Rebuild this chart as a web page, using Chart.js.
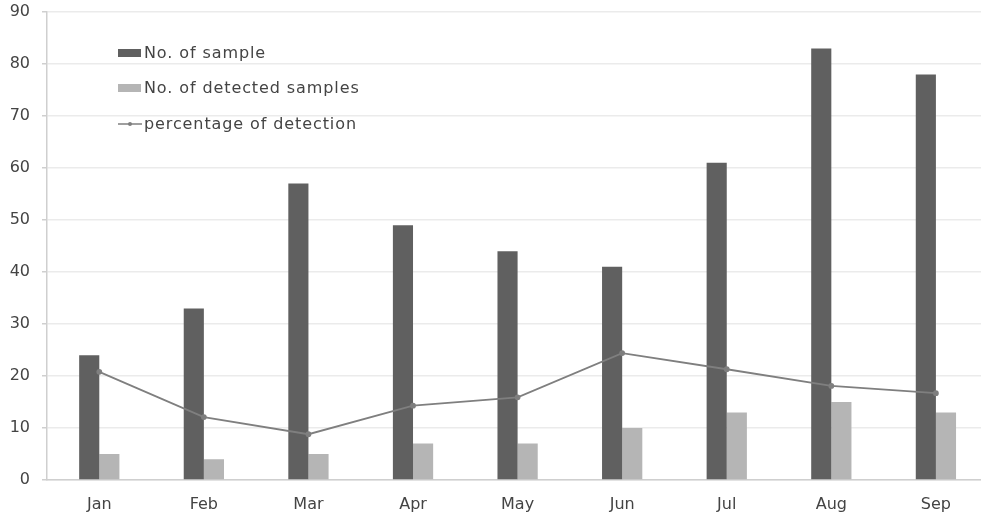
<!DOCTYPE html>
<html>
<head>
<meta charset="utf-8">
<script src="https://cdn.jsdelivr.net/npm/chart.js@4"></script>
<style>
  html, body { margin: 0; padding: 0; background: #fff; overflow: hidden; }
  #wrap { width: 992px; height: 517px; position: relative; }
</style>
</head>
<body>
<div id="wrap"><canvas id="c" width="992" height="517"></canvas></div>
<script>
const months = ['Jan', 'Feb', 'Mar', 'Apr', 'May', 'Jun', 'Jul', 'Aug', 'Sep'];
const samples = [24, 33, 57, 49, 44, 41, 61, 83, 78];
const detected = [5, 4, 5, 7, 7, 10, 13, 15, 13];
const detectionPct = [20.8, 12.1, 8.8, 14.3, 15.9, 24.4, 21.3, 18.1, 16.7];
const yTicks = [0, 10, 20, 30, 40, 50, 60, 70, 80, 90];

const FONT = 'DejaVu Sans';

// Legend drawn inside the plot area, top-left
const innerLegend = {
  id: 'innerLegend',
  afterDraw(chart) {
    const ctx = chart.ctx;
    const a = chart.chartArea;
    const x0 = a.left + 71;
    const rows = [a.top + 41, a.top + 76, a.top + 112];
    ctx.save();
    ctx.font = '16px ' + FONT;
    ctx.letterSpacing = '0.9px';
    ctx.textBaseline = 'middle';
    chart.data.datasets.forEach((ds, i) => {
      const y = rows[i];
      if (ds.type === 'line') {
        ctx.strokeStyle = ds.borderColor;
        ctx.lineWidth = 1.5;
        ctx.beginPath();
        ctx.moveTo(x0, y);
        ctx.lineTo(x0 + 24, y);
        ctx.stroke();
        ctx.fillStyle = ds.borderColor;
        ctx.beginPath();
        ctx.arc(x0 + 12, y, 2, 0, Math.PI * 2);
        ctx.fill();
      } else {
        ctx.fillStyle = ds.backgroundColor;
        ctx.fillRect(x0, y - 4, 23, 8);
      }
      ctx.fillStyle = '#444';
      ctx.fillText(ds.label, x0 + 26, y + 1);
    });
    ctx.restore();
  }
};

new Chart(document.getElementById('c'), {
  data: {
    labels: months,
    datasets: [
      {
        type: 'bar',
        label: 'No. of sample',
        data: samples,
        backgroundColor: '#606060',
        barPercentage: 1,
        categoryPercentage: 0.385,
        order: 2
      },
      {
        type: 'bar',
        label: 'No. of detected samples',
        data: detected,
        backgroundColor: '#b5b5b5',
        barPercentage: 1,
        categoryPercentage: 0.385,
        order: 2
      },
      {
        type: 'line',
        label: 'percentage of detection',
        data: detectionPct,
        borderColor: '#7f7f7f',
        backgroundColor: '#7f7f7f',
        borderWidth: 1.8,
        pointRadius: 2,
        pointHoverRadius: 2,
        tension: 0,
        order: 1
      }
    ]
  },
  options: {
    responsive: false,
    animation: false,
    layout: { padding: { top: 12, right: 2, left: 0, bottom: 0 } },
    plugins: { legend: { display: false }, tooltip: { enabled: false } },
    scales: {
      x: {
        afterFit(scale) { scale.height = 37; },
        grid: { display: false, drawTicks: false },
        border: { color: '#cfcfcf', width: 1.5 },
        ticks: { color: '#444', font: { family: FONT, size: 16 }, padding: 15 }
      },
      y: {
        min: 0,
        max: 90,
        afterBuildTicks(scale) { scale.ticks = yTicks.map(v => ({ value: v })); },
        afterFit(scale) {
          scale.width = 47;
          scale.paddingTop = 0;
          scale.paddingBottom = 0;
        },
        grid: { color: '#ebebeb', lineWidth: 1.5, tickLength: 5, tickColor: '#cfcfcf' },
        border: { color: '#cfcfcf', width: 1.5 },
        ticks: { color: '#444', font: { family: FONT, size: 16 }, padding: 12 }
      }
    }
  },
  plugins: [innerLegend]
});
</script>
</body>
</html>
